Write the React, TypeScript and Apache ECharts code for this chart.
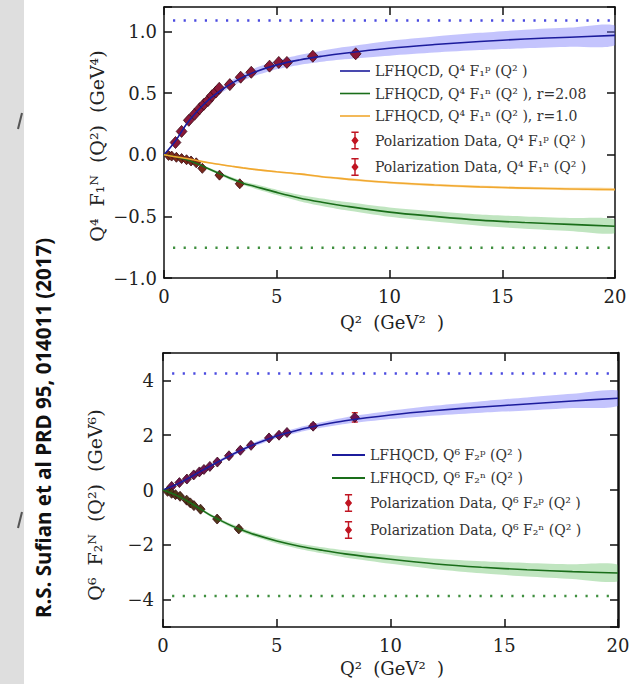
import React, { useEffect, useRef } from "react";
import * as echarts from "echarts";

// ---------- shared Q^2 sampling of theory curves ----------
const q2Curve = [0, 0.5, 1, 1.5, 2, 2.5, 3, 3.5, 4, 5, 6, 7, 8, 10, 12, 14, 16, 18, 20];

// ---------- top panel: Q^4 F1 ----------
const f1pCurve = [0, 0.11, 0.25, 0.36, 0.45, 0.52, 0.58, 0.63, 0.67, 0.73, 0.77, 0.8, 0.825, 0.865, 0.895, 0.92, 0.94, 0.955, 0.97];
const f1pHalf = [0, 0.005, 0.01, 0.015, 0.02, 0.022, 0.025, 0.028, 0.03, 0.035, 0.04, 0.045, 0.05, 0.06, 0.065, 0.07, 0.075, 0.078, 0.08];
const f1nCurveA = [0, -0.015, -0.04, -0.075, -0.115, -0.155, -0.195, -0.23, -0.255, -0.305, -0.35, -0.385, -0.415, -0.465, -0.5, -0.53, -0.55, -0.565, -0.58];
const f1nHalfA = [0, 0.003, 0.005, 0.007, 0.01, 0.012, 0.014, 0.016, 0.018, 0.022, 0.026, 0.03, 0.033, 0.038, 0.042, 0.046, 0.05, 0.053, 0.056];
const f1nCurveB = [0, -0.015, -0.03, -0.048, -0.065, -0.079, -0.093, -0.106, -0.118, -0.138, -0.155, -0.178, -0.195, -0.225, -0.245, -0.26, -0.27, -0.277, -0.282];
const f1nHalfB = [0, 0.002, 0.003, 0.004, 0.005, 0.005, 0.006, 0.006, 0.007, 0.007, 0.008, 0.008, 0.009, 0.009, 0.01, 0.01, 0.01, 0.011, 0.011];
const f1pDataQ2 = [0.51, 0.78, 1.1, 1.36, 1.58, 1.77, 1.95, 2.13, 2.3, 2.45, 2.92, 3.4, 3.87, 4.68, 5.09, 5.45, 6.6, 8.5];
const f1pDataVal = [0.1, 0.19, 0.28, 0.33, 0.375, 0.41, 0.44, 0.48, 0.51, 0.54, 0.57, 0.63, 0.67, 0.72, 0.75, 0.75, 0.8, 0.82];
const f1pDataErr = [0.01, 0.01, 0.01, 0.01, 0.01, 0.01, 0.01, 0.01, 0.01, 0.01, 0.012, 0.012, 0.012, 0.015, 0.015, 0.015, 0.02, 0.025];
const f1nDataQ2 = [0.2, 0.34, 0.55, 0.78, 1.0, 1.2, 1.43, 1.7, 2.46, 3.36];
const f1nDataVal = [-0.005, -0.01, -0.02, -0.03, -0.04, -0.05, -0.065, -0.11, -0.165, -0.235];
const f1nDataErr = [0.005, 0.005, 0.005, 0.006, 0.006, 0.007, 0.008, 0.01, 0.012, 0.015];
const f1AsymP = 1.09;
const f1AsymN = -0.755;
const f1AsymRange = [0.4, 19.8];

// ---------- bottom panel: Q^6 F2 ----------
const f2pCurve = [0, 0.17, 0.38, 0.61, 0.84, 1.06, 1.28, 1.48, 1.66, 1.97, 2.2, 2.38, 2.53, 2.74, 2.9, 3.03, 3.14, 3.25, 3.35];
const f2pHalf = [0, 0.02, 0.03, 0.04, 0.05, 0.055, 0.06, 0.065, 0.07, 0.08, 0.09, 0.1, 0.12, 0.15, 0.18, 0.21, 0.24, 0.26, 0.28];
const f2nCurve = [0, -0.16, -0.37, -0.62, -0.88, -1.1, -1.3, -1.47, -1.62, -1.86, -2.05, -2.2, -2.33, -2.53, -2.7, -2.82, -2.91, -2.98, -3.03];
const f2nHalf = [0, 0.02, 0.03, 0.04, 0.05, 0.06, 0.065, 0.07, 0.075, 0.09, 0.1, 0.11, 0.13, 0.16, 0.19, 0.22, 0.25, 0.27, 0.3];
const f2pDataQ2 = [0.38, 0.72, 1.05, 1.35, 1.6, 1.8, 2.06, 2.39, 2.9, 3.4, 3.87, 4.66, 5.1, 5.45, 6.6, 8.43];
const f2pDataVal = [0.13, 0.27, 0.4, 0.55, 0.66, 0.75, 0.86, 1.02, 1.25, 1.45, 1.63, 1.9, 2.0, 2.1, 2.33, 2.65];
const f2pDataErr = [0.03, 0.03, 0.03, 0.03, 0.03, 0.03, 0.03, 0.04, 0.04, 0.04, 0.05, 0.05, 0.05, 0.06, 0.08, 0.17];
const f2nDataQ2 = [0.2, 0.38, 0.55, 0.75, 1.04, 1.2, 1.36, 1.65, 2.38, 3.33];
const f2nDataVal = [-0.05, -0.12, -0.17, -0.23, -0.37, -0.47, -0.57, -0.7, -1.06, -1.42];
const f2nDataErr = [0.02, 0.02, 0.03, 0.03, 0.03, 0.04, 0.04, 0.04, 0.05, 0.06];
const f2AsymP = 4.25;
const f2AsymN = -3.87;
const f2AsymRange = [0.4, 19.8];

// ---------- texts ----------
const topNames = [
  "LFHQCD, Q⁴ F₁ᵖ (Q² )",
  "LFHQCD, Q⁴ F₁ⁿ (Q² ), r=2.08",
  "LFHQCD, Q⁴ F₁ⁿ (Q² ), r=1.0",
  "Polarization Data, Q⁴ F₁ᵖ (Q² )",
  "Polarization Data, Q⁴ F₁ⁿ (Q² )",
];
const bottomNames = [
  "LFHQCD, Q⁶ F₂ᵖ (Q² )",
  "LFHQCD, Q⁶ F₂ⁿ (Q² )",
  "Polarization Data, Q⁶ F₂ᵖ (Q² )",
  "Polarization Data, Q⁶ F₂ⁿ (Q² )",
];
const xAxisTitle = "Q²  (GeV²  )";
const topYTitle = "Q⁴  F₁ᴺ  (Q²)  (GeV⁴)";
const bottomYTitle = "Q⁶  F₂ᴺ  (Q²)  (GeV⁶)";
const citation = "R.S. Sufian et al PRD 95, 014011 (2017)";

const SERIF = "DejaVu Serif, Liberation Serif, serif";
const ERR_ICON =
  "path://M1,0H9V1.6H1ZM4.2,0H5.8V20H4.2ZM1,18.4H9V20H1ZM5,5L9,10L5,15L1,10Z";
const LINE_ICON = "path://M0,0H30V1.6H0Z";

function curve(name: string, xi: number, yi: number, ys: number[], color: string) {
  return {
    type: "line",
    name,
    xAxisIndex: xi,
    yAxisIndex: yi,
    data: q2Curve.map((x, i) => [x, ys[i]]),
    smooth: 0.35,
    symbol: "none",
    lineStyle: { color, width: 1.6 },
    itemStyle: { color },
    z: 4,
    silent: true,
  };
}

function band(xi: number, yi: number, mid: number[], half: number[], color: string) {
  return {
    type: "custom",
    name: "_band" + xi + color,
    xAxisIndex: xi,
    yAxisIndex: yi,
    silent: true,
    clip: true,
    z: 1,
    data: q2Curve.map((x, i) => [x, mid[i] - half[i], mid[i] + half[i]]),
    encode: { x: 0, y: [1, 2] },
    renderItem: (params: any, api: any) => {
      if (params.dataIndex !== 0) return null;
      const upper = q2Curve.map((x, i) => api.coord([x, mid[i] + half[i]]));
      const lower = q2Curve
        .map((x, i) => api.coord([x, mid[i] - half[i]]))
        .slice(1)
        .reverse();
      return {
        type: "polygon",
        shape: { points: upper.concat(lower), smooth: 0.25 },
        style: { fill: color },
      };
    },
  };
}

function dataSeries(
  name: string,
  xi: number,
  yi: number,
  qs: number[],
  vs: number[],
  es: number[],
  fill: string,
  size: number
) {
  return {
    type: "custom",
    name,
    xAxisIndex: xi,
    yAxisIndex: yi,
    z: 3,
    clip: true,
    itemStyle: { color: "#c01522" },
    data: qs.map((x, i) => [x, vs[i], es[i]]),
    encode: { x: 0, y: 1 },
    renderItem: (params: any, api: any) => {
      const x = api.value(0);
      const y = api.value(1);
      const e = api.value(2);
      const p = api.coord([x, y]);
      const pt = api.coord([x, y + e]);
      const pb = api.coord([x, y - e]);
      const s = size / 2;
      const errStyle = { stroke: "#d01818", lineWidth: 1.3 };
      return {
        type: "group",
        children: [
          { type: "line", shape: { x1: p[0], y1: pt[1], x2: p[0], y2: pb[1] }, style: errStyle },
          { type: "line", shape: { x1: p[0] - 3, y1: pt[1], x2: p[0] + 3, y2: pt[1] }, style: errStyle },
          { type: "line", shape: { x1: p[0] - 3, y1: pb[1], x2: p[0] + 3, y2: pb[1] }, style: errStyle },
          {
            type: "polygon",
            shape: {
              points: [
                [p[0], p[1] - s],
                [p[0] + s * 0.9, p[1]],
                [p[0], p[1] + s],
                [p[0] - s * 0.9, p[1]],
              ],
            },
            style: { fill, stroke: "#3a0a14", lineWidth: 0.8 },
          },
        ],
      };
    },
  };
}

function asym(xi: number, yi: number, v: number, range: number[], color: string) {
  return {
    type: "line",
    name: "_asym" + xi + color,
    xAxisIndex: xi,
    yAxisIndex: yi,
    data: [
      [range[0], v],
      [range[1], v],
    ],
    symbol: "none",
    silent: true,
    z: 2,
    lineStyle: { color, width: 2.6, type: [2.2, 8.4] },
  };
}

const axisLineStyle = { color: "#111", width: 1.5 };
const axisBase = {
  type: "value",
  axisLine: { show: true, onZero: false, lineStyle: axisLineStyle },
  axisTick: { show: true, inside: true, length: 8, lineStyle: axisLineStyle },
  splitLine: { show: false },
};
const labelStyle = { fontFamily: SERIF, fontSize: 18, color: "#222" };

const fmtTop = (v: number) =>
  Math.abs(Math.round(v * 10)) % 5 === 0 ? v.toFixed(1).replace("-", "−") : "";
const fmtBottom = (v: number) =>
  Math.abs(Math.round(v)) % 2 === 0 && Math.abs(v - Math.round(v)) < 1e-6
    ? String(Math.round(v)).replace("-", "−")
    : "";

function legendFor(names: string[], left: number, top: number, itemWidth: number, gap: number) {
  return {
    data: names.map((n) => ({ name: n, icon: n.startsWith("Polarization") ? ERR_ICON : LINE_ICON })),
    orient: "vertical",
    left,
    top,
    itemWidth,
    itemHeight: 18,
    itemGap: gap,
    selectedMode: false,
    textStyle: { fontFamily: SERIF, fontSize: 14, color: "#333" },
  };
}

export default function App() {
  const ref = useRef<HTMLDivElement>(null);
  useEffect(() => {
    if (!ref.current) return;
    const chart = echarts.init(ref.current, undefined, { renderer: "svg" });
    const option: any = {
      animation: false,
      backgroundColor: "#ffffff",
      grid: [
        { left: 164, top: 7, width: 451, height: 271 },
        { left: 163, top: 353, width: 455, height: 274 },
      ],
      xAxis: [
        { ...axisBase, gridIndex: 0, min: 0, max: 20, interval: 5, position: "bottom", axisLabel: { ...labelStyle, margin: 9 } },
        { ...axisBase, gridIndex: 0, min: 0, max: 20, interval: 5, position: "top", axisLabel: { show: false } },
        { ...axisBase, gridIndex: 1, min: 0, max: 20, interval: 5, position: "bottom", axisLabel: { ...labelStyle, margin: 9 } },
        { ...axisBase, gridIndex: 1, min: 0, max: 20, interval: 5, position: "top", axisLabel: { show: false } },
      ],
      yAxis: [
        { ...axisBase, gridIndex: 0, min: -1, max: 1.2, interval: 0.5, position: "left", axisLabel: { ...labelStyle, margin: 7, formatter: fmtTop } },
        { ...axisBase, gridIndex: 0, min: -1, max: 1.2, interval: 0.5, position: "right", axisLabel: { show: false } },
        { ...axisBase, gridIndex: 1, min: -5, max: 5, splitNumber: 5, position: "left", axisLabel: { ...labelStyle, margin: 9, formatter: fmtBottom } },
        {
          ...axisBase,
          gridIndex: 1,
          min: -5,
          max: 5,
          splitNumber: 5,
          position: "right",
          axisLine: { show: true, onZero: false, lineStyle: { color: "#111", width: 2.5 } },
          axisLabel: { show: false },
        },
      ],
      legend: [
        legendFor(topNames, 335, 59, 30, 8.5),
        legendFor(bottomNames, 327, 443, 33, 9),
      ],
      series: [
        band(0, 0, f1pCurve, f1pHalf, "rgba(115,115,250,0.42)"),
        band(0, 0, f1nCurveA, f1nHalfA, "rgba(70,180,70,0.34)"),
        band(0, 0, f1nCurveB, f1nHalfB, "rgba(250,185,70,0.4)"),
        asym(0, 0, f1AsymP, f1AsymRange, "#4a4ae0"),
        asym(0, 0, f1AsymN, f1AsymRange, "#3f8f3f"),
        dataSeries(topNames[3], 0, 0, f1pDataQ2, f1pDataVal, f1pDataErr, "#8a1838", 12),
        dataSeries(topNames[4], 0, 0, f1nDataQ2, f1nDataVal, f1nDataErr, "#7a2a1a", 10),
        curve(topNames[0], 0, 0, f1pCurve, "#1c1c9c"),
        curve(topNames[1], 0, 0, f1nCurveA, "#1a6e1a"),
        curve(topNames[2], 0, 0, f1nCurveB, "#f0a830"),

        band(2, 2, f2pCurve, f2pHalf, "rgba(115,115,250,0.42)"),
        band(2, 2, f2nCurve, f2nHalf, "rgba(70,180,70,0.34)"),
        asym(2, 2, f2AsymP, f2AsymRange, "#4a4ae0"),
        asym(2, 2, f2AsymN, f2AsymRange, "#3f8f3f"),
        dataSeries(bottomNames[2], 2, 2, f2pDataQ2, f2pDataVal, f2pDataErr, "#6d1450", 10),
        dataSeries(bottomNames[3], 2, 2, f2nDataQ2, f2nDataVal, f2nDataErr, "#4e3a18", 10),
        curve(bottomNames[0], 2, 2, f2pCurve, "#1c1c9c"),
        curve(bottomNames[1], 2, 2, f2nCurve, "#1a6e1a"),
      ],
      graphic: [
        { type: "rect", left: 0, top: 0, shape: { x: 0, y: 0, width: 24, height: 684 }, style: { fill: "#dedede" }, z: -10 },
        { type: "line", shape: { x1: 22, y1: 113, x2: 18, y2: 129 }, style: { stroke: "#555", lineWidth: 2 } },
        { type: "line", shape: { x1: 22, y1: 512, x2: 18, y2: 528 }, style: { stroke: "#555", lineWidth: 2 } },
        {
          type: "text",
          x: 43,
          y: 428,
          rotation: Math.PI / 2,
          style: { text: citation, fontFamily: "Open Sans, sans-serif", fontWeight: "bold", fontSize: 20.5, fill: "#111", align: "center", verticalAlign: "middle" },
        },
        {
          type: "text",
          x: 97,
          y: 146,
          rotation: Math.PI / 2,
          style: { text: topYTitle, fontFamily: SERIF, fontSize: 19, fill: "#222", align: "center", verticalAlign: "middle" },
        },
        {
          type: "text",
          x: 95,
          y: 505,
          rotation: Math.PI / 2,
          style: { text: bottomYTitle, fontFamily: SERIF, fontSize: 19, fill: "#222", align: "center", verticalAlign: "middle" },
        },
        {
          type: "text",
          x: 392,
          y: 322,
          style: { text: xAxisTitle, fontFamily: SERIF, fontSize: 18, fill: "#222", align: "center", verticalAlign: "middle" },
        },
        {
          type: "text",
          x: 392,
          y: 668,
          style: { text: xAxisTitle, fontFamily: SERIF, fontSize: 18, fill: "#222", align: "center", verticalAlign: "middle" },
        },
      ],
    };
    chart.setOption(option);
    return () => chart.dispose();
  }, []);
  return (
    <div
      ref={ref}
      style={{ position: "absolute", left: 0, top: 0, width: 641, height: 684, background: "#fff" }}
    />
  );
}
